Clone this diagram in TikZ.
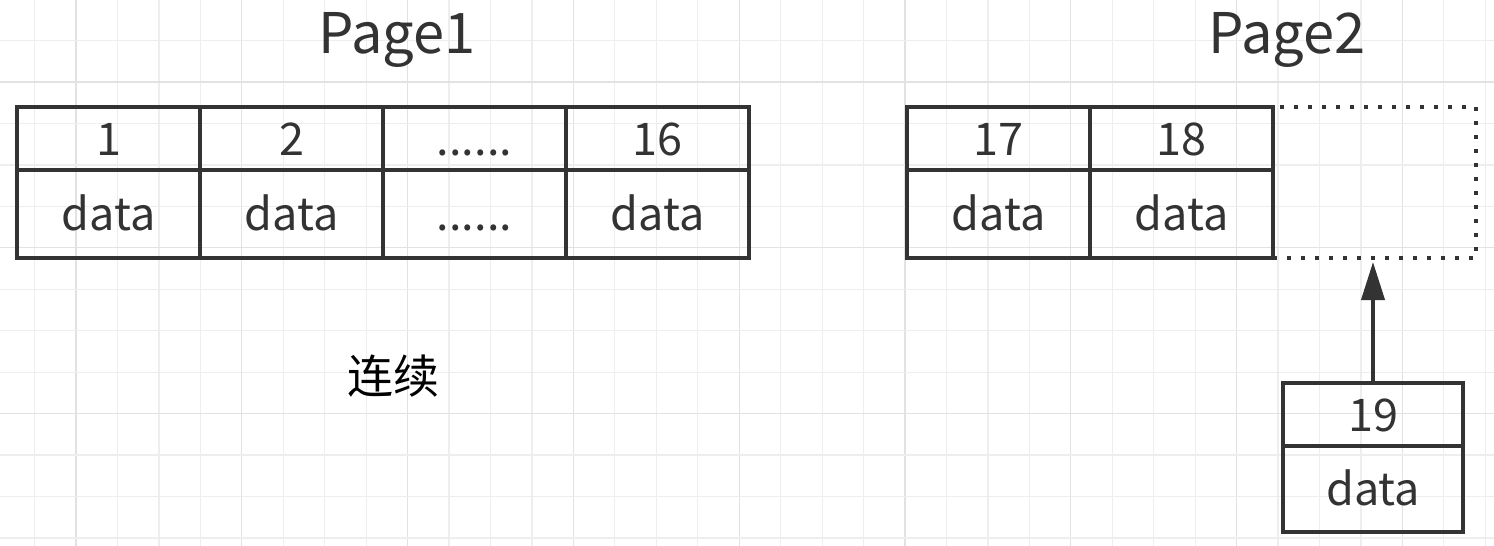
\documentclass[tikz,border=0pt]{standalone}
\usepackage{fontspec}
\setmainfont{Noto Sans CJK SC}
\usepackage{xcolor}
\usetikzlibrary{arrows.meta,positioning}
\definecolor{inkgray}{HTML}{333333}
\definecolor{gridminor}{HTML}{EEEEEE}
\definecolor{gridmajor}{HTML}{E2E2E2}

\begin{document}
\begin{tikzpicture}[x=1pt,y=-1pt,
  cell/.style={draw=inkgray, line width=4pt, inner sep=0pt, outer sep=0pt,
    minimum width=183pt, text=inkgray, font=\fontsize{45}{50}\selectfont,
    text height=33pt, text depth=0pt},
  idcell/.style={cell, minimum height=63pt},
  datacell/.style={cell, minimum height=88pt},
  title/.style={text=inkgray, font=\fontsize{56}{60}\selectfont, anchor=base}]
\useasboundingbox (0,0) rectangle (1494,546);
\fill[white] (0,0) rectangle (1494,546);

% Background grid
\foreach \k in {0,...,36} {
  \pgfmathtruncatemacro{\major}{mod(\k,4)==2}
  \ifnum\major=1 \def\gc{gridmajor}\else\def\gc{gridminor}\fi
  \draw[\gc, line width=1.2pt] (-6.9+41.45*\k,0) -- (-6.9+41.45*\k,546);
}
\foreach \k in {0,...,13} {
  \pgfmathtruncatemacro{\major}{mod(\k,4)==2}
  \ifnum\major=1 \def\gc{gridmajor}\else\def\gc{gridminor}\fi
  \draw[\gc, line width=1.2pt] (0,-0.9+41.45*\k) -- (1494,-0.9+41.45*\k);
}

% Page1
\node[title] (page1title) at (397,53) {Page1};
\node[idcell, anchor=north west] (p1a) at (17,107) {1};
\node[idcell, right=0pt of p1a] (p1b) {2};
\node[idcell, right=0pt of p1b] (p1c) {......};
\node[idcell, right=0pt of p1c] (p1d) {16};
\node[datacell, below=0pt of p1a] (p1adata) {data};
\node[datacell, below=0pt of p1b] (p1bdata) {data};
\node[datacell, below=0pt of p1c] (p1cdata) {......};
\node[datacell, below=0pt of p1d] (p1ddata) {data};

\node[font=\fontsize{46}{50}\selectfont] (contig) at (393,376) {连续};

% Page2
\node[title] (page2title) at (1287,53) {Page2};
\node[idcell, anchor=north west] (p2a) at (907,107) {17};
\node[idcell, right=0pt of p2a] (p2b) {18};
\node[datacell, below=0pt of p2a] (p2adata) {data};
\node[datacell, below=0pt of p2b] (p2bdata) {data};
\node[draw=inkgray, line width=4pt, dash pattern=on 4pt off 10pt,
  minimum width=203pt, minimum height=151pt, inner sep=0pt, outer sep=0pt,
  anchor=north west] (slot) at (p2b.north east) {};

% New record
\node[idcell, minimum width=180pt, anchor=north] (new19) at (1373,383) {19};
\node[datacell, minimum width=180pt, minimum height=86pt, below=0pt of new19] (new19data) {data};
\draw[inkgray, line width=4pt, -{Triangle[length=38pt,width=23pt]}, shorten >=4pt]
  (new19.north) -- (new19.north |- slot.south);
\end{tikzpicture}
\end{document}
